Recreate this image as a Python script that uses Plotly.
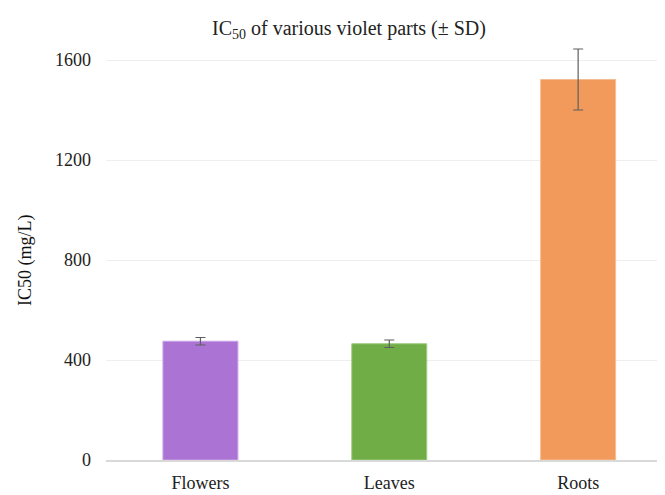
import plotly.graph_objects as go

categories = ["Flowers", "Leaves", "Roots"]
ic50_values = [475, 465, 1522]
sd_values = [15, 15, 122]
bar_colors = ["#AB74D4", "#70AD47", "#F19A5B"]
edge_colors = ["#C9A3E6", "#9CCB7C", "#F6BC91"]
tick_vals = [0, 400, 800, 1200, 1600]

FONT = "Liberation Serif"

fig = go.Figure()
fig.add_trace(go.Bar(
    x=categories,
    y=ic50_values,
    marker=dict(color=bar_colors, line=dict(color=edge_colors, width=1)),
    error_y=dict(type="data", array=sd_values, visible=True,
                 color="#5f5f5f", thickness=1.2, width=5),
    width=0.397,
))

fig.add_annotation(
    text="IC50 (mg/L)", textangle=-90,
    xref="paper", x=-0.145, xanchor="center",
    yref="y", y=800, yanchor="middle",
    showarrow=False,
    font=dict(family=FONT, size=18, color="#111111"),
)

fig.update_layout(
    width=657, height=487,
    margin=dict(l=98, r=0, t=37, b=35),
    plot_bgcolor="white", paper_bgcolor="white",
    font=dict(family=FONT, size=18, color="#222222"),
    title=dict(text="IC<sub>50</sub> of various violet parts (± SD)",
               xref="container", x=0.519, xanchor="center",
               yref="container", y=0.959, yanchor="middle",
               font=dict(family=FONT, size=20, color="#222222")),
    showlegend=False,
    xaxis=dict(range=[-0.5, 2.46], showgrid=False, showline=True,
               linecolor="#d9d9d9", linewidth=1.5, ticks="",
               tickfont=dict(family=FONT, size=18, color="#222222"),
               ticklabelstandoff=6),
    yaxis=dict(range=[0, 1660], tickvals=tick_vals, showgrid=True,
               gridcolor="#eeeeee", gridwidth=1, zeroline=False,
               showline=False, ticks="",
               tickfont=dict(family=FONT, size=18, color="#222222"),
               ticklabelstandoff=14),
)

fig.write_html("out.html")
